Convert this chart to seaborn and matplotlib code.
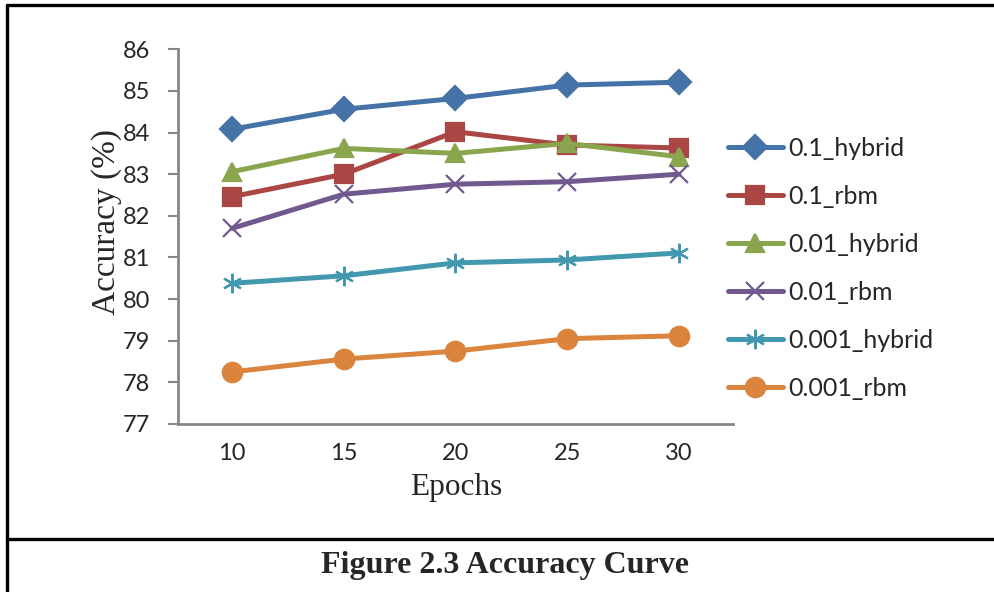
import matplotlib
matplotlib.use("Agg")
import matplotlib.pyplot as plt
import seaborn as sns
from matplotlib.lines import Line2D

# accuracy (%) per epoch
epochs = [10, 15, 20, 25, 30]
hybrid_01 = [84.08, 84.56, 84.82, 85.14, 85.21]
rbm_01 = [82.46, 83.00, 84.02, 83.70, 83.63]
hybrid_001 = [83.06, 83.62, 83.50, 83.74, 83.42]
rbm_001 = [81.70, 82.52, 82.76, 82.82, 83.00]
hybrid_0001 = [80.38, 80.56, 80.87, 80.94, 81.11]
rbm_0001 = [78.25, 78.56, 78.75, 79.05, 79.12]

labels = ["0.1_hybrid", "0.1_rbm", "0.01_hybrid", "0.01_rbm",
          "0.001_hybrid", "0.001_rbm"]
series = [hybrid_01, rbm_01, hybrid_001, rbm_001, hybrid_0001, rbm_0001]
colors = ["#4572A7", "#AA4643", "#89A54E", "#71588F", "#4198AF", "#DB843D"]
markers = ["D", "s", "^", "x", (6, 2, 0), "o"]
msizes = [12, 13, 13, 13, 14, 14]

sns.set_style("white")
plt.rcParams['font.family'] = ['Lato', 'DejaVu Sans']

fig = plt.figure(figsize=(9.95, 5.92), dpi=100)
ax = fig.add_axes([178 / 995, 1 - 424 / 592, 555 / 995, (424 - 49.3) / 592])

for lab, vals, c, m, ms in zip(labels, series, colors, markers, msizes):
    sns.lineplot(x=epochs, y=vals, ax=ax, color=c, marker=m, markersize=ms,
                 markeredgecolor=c, markerfacecolor=c, markeredgewidth=1.6,
                 linewidth=3.6, label=lab)

ax.set_xlim(7.58, 32.42)
ax.set_ylim(77, 86)
ax.set_xticks(epochs)
ax.set_yticks(range(77, 87))
ax.tick_params(axis='y', length=7, width=1.5, color='#868686', pad=13,
               labelsize=17, direction='out', left=True)
ax.tick_params(axis='x', length=0, pad=14, labelsize=17)
for s in ['top', 'right']:
    ax.spines[s].set_visible(False)
for s in ['left', 'bottom']:
    ax.spines[s].set_color('#868686')
    ax.spines[s].set_linewidth(2)
ax.set_xlabel('')
ax.set_ylabel('')

ax.legend(loc='center left', bbox_to_anchor=(728 / 995, 1 - 268.5 / 592),
          bbox_transform=fig.transFigure, frameon=False, fontsize=18,
          handlelength=2.2, handletextpad=0.2, labelspacing=1.0,
          borderpad=0, borderaxespad=0)

fig.text(456 / 995, 1 - 488 / 592, 'Epochs', family='Liberation Serif',
         fontsize=22.5, ha='center', va='center')
fig.text(107 / 995, 1 - 222 / 592, 'Accuracy (%)', family='Liberation Serif',
         fontsize=24, rotation=90, ha='center', va='center')
fig.text(505 / 995, 1 - 566 / 592, 'Figure 2.3 Accuracy Curve',
         family='Liberation Serif', fontweight='bold', fontsize=23,
         ha='center', va='center')

# page frame around chart and caption
frame = dict(color='black', linewidth=2.4, transform=fig.transFigure)
fig.add_artist(Line2D([7 / 995, 7 / 995], [0, 1 - 5 / 592], **frame))
fig.add_artist(Line2D([7 / 995, 1], [1 - 5 / 592, 1 - 5 / 592], **frame))
fig.add_artist(Line2D([7 / 995, 1], [1 - 539 / 592, 1 - 539 / 592], **frame))

fig.savefig('out.png', dpi=100)
